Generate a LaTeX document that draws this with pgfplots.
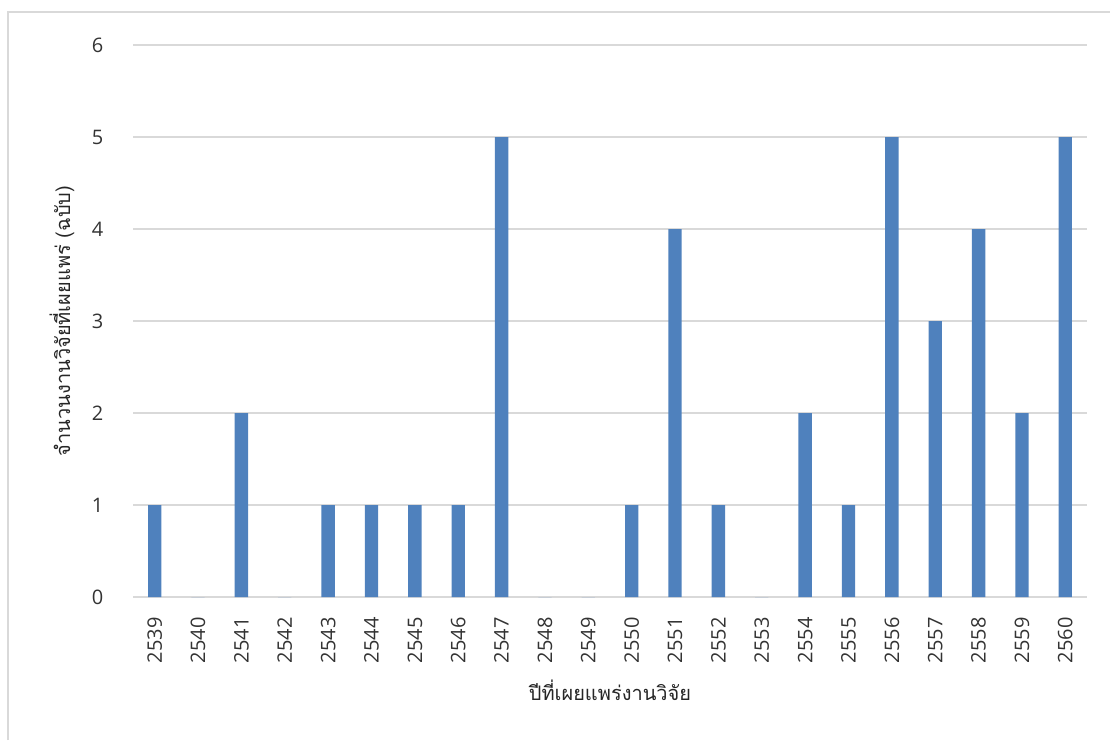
\documentclass[border=0pt]{standalone}
\usepackage{fontspec}
\setmainfont{Open Sans}
\newfontfamily\thaifont[Script=Thai]{Loma}
\usepackage{pgfplots}
\pgfplotsset{compat=1.18}
\definecolor{barblue}{HTML}{4F81BD}
\definecolor{gridgray}{HTML}{D9D9D9}
\begin{document}
\begin{tikzpicture}
\useasboundingbox (0,0) rectangle (832.5pt,555pt);
\draw[gridgray, line width=1pt] (6pt,0) -- (6pt,546pt) -- (832.5pt,546pt);
\begin{axis}[
    at={(99.75pt,107.25pt)}, anchor=south west,
    scale only axis,
    width=715.5pt, height=414pt,
    ybar, bar width=10pt,
    xmin=-0.5, xmax=21.5,
    ymin=0, ymax=6,
    xtick=data,
    xticklabels={2539,2540,2541,2542,2543,2544,2545,2546,2547,2548,2549,2550,2551,2552,2553,2554,2555,2556,2557,2558,2559,2560},
    ytick={0,1,2,3,4,5,6},
    major tick length=0pt,
    axis line style={draw=none},
    ymajorgrids=true,
    grid style={gridgray, line width=1pt},
    tick label style={font=\fontsize{15}{18}\selectfont, text=black!80},
    /pgf/number format/assume math mode=true,
    xticklabel style={rotate=90, anchor=east, inner sep=0pt},
    xticklabel shift=15pt,
    yticklabel style={anchor=east, inner sep=0pt},
    yticklabel shift=22pt,
    xlabel={\thaifont ปีที่เผยแพร่งานวิจัย},
    ylabel={\thaifont จำนวนงานวิจัยที่เผยแพร่ (ฉบับ)},
    label style={font=\fontsize{15}{18}\selectfont, text=black!85},
    xlabel style={at={(axis description cs:0.5,-0.1685)}, anchor=center},
    ylabel style={at={(axis description cs:-0.0744,0.5)}, anchor=center, rotate=0},
]
\addplot[fill=barblue, draw=none] coordinates {
    (0,1) (1,0) (2,2) (3,0) (4,1) (5,1) (6,1) (7,1) (8,5) (9,0) (10,0)
    (11,1) (12,4) (13,1) (14,0) (15,2) (16,1) (17,5) (18,3) (19,4) (20,2) (21,5)
};
\end{axis}
\end{tikzpicture}
\end{document}
